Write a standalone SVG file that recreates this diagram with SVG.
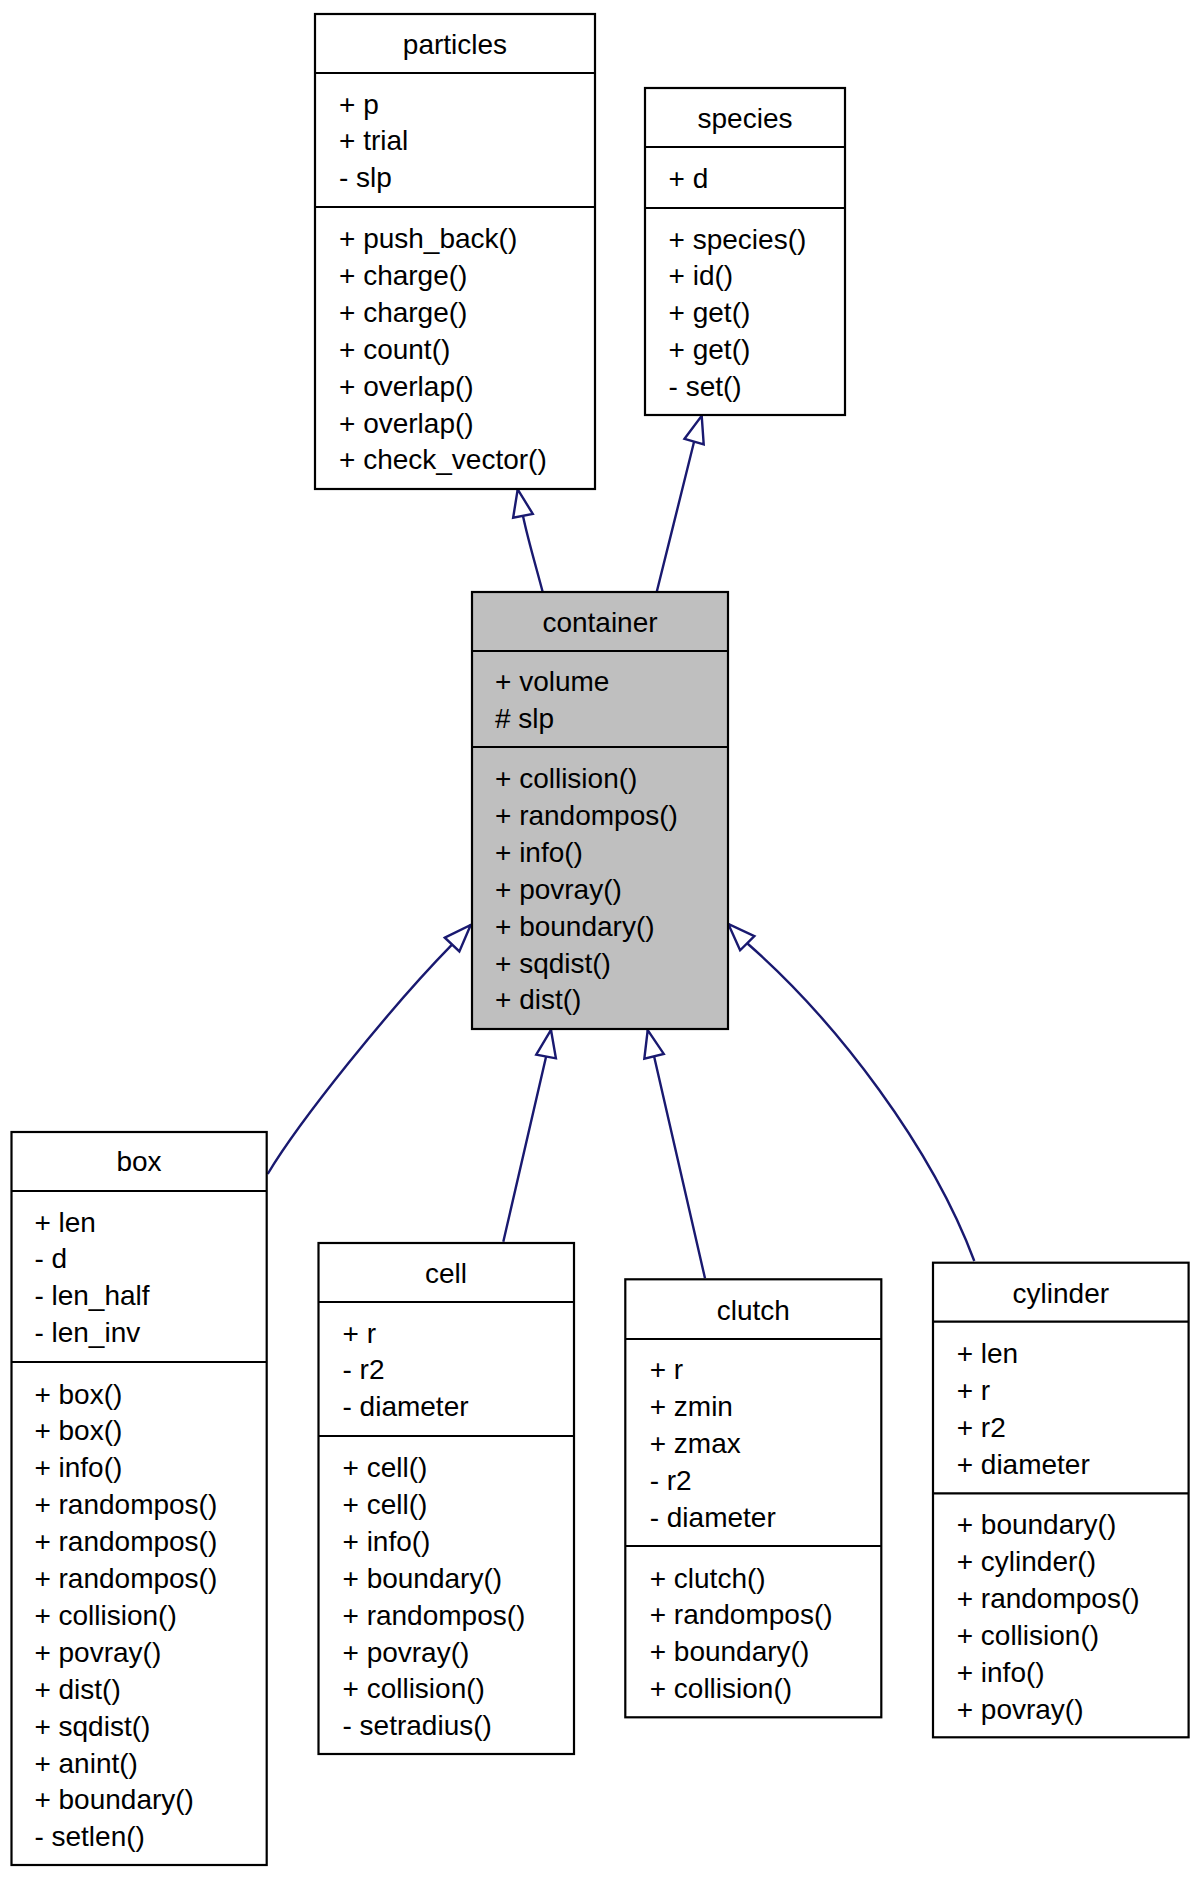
<svg xmlns="http://www.w3.org/2000/svg" width="1200" height="1877" viewBox="0 0 1200 1877">
<style>
.box{fill:#ffffff;stroke:#000000;stroke-width:2.2}
.cur{fill:#bfbfbf;stroke:#000000;stroke-width:2.2}
.div{stroke:#000000;stroke-width:2.2}
text{font-family:"Liberation Sans",Arial,Helvetica,sans-serif;font-size:28px;fill:#000000}
.t{text-anchor:middle}
.edge{fill:none;stroke:#191970;stroke-width:2.4}
</style>
<defs>
<marker id="inh" markerUnits="userSpaceOnUse" viewBox="-2 -12 31 24" markerWidth="31" markerHeight="24" refX="27" refY="0" orient="auto" overflow="visible">
<path d="M0,-10 L27,0 L0,10 Z" fill="#ffffff" stroke="#191970" stroke-width="2.4" stroke-linejoin="miter"/>
</marker>
</defs>
<rect width="1200" height="1877" fill="#ffffff"/>

<g id="connectors">
<path class="edge" d="M542.7,592 C537,570 528,540 523,516 L517.7,489.3" marker-end="url(#inh)"/>
<path class="edge" d="M656.7,592 C668,547 684,482 694,442 L701.7,415.7" marker-end="url(#inh)"/>
<path class="edge" d="M267.7,1174 C300,1120 390,1008 452,944.7 L470.7,925" marker-end="url(#inh)"/>
<path class="edge" d="M503.3,1241.7 L546,1057 L551,1030" marker-end="url(#inh)"/>
<path class="edge" d="M705,1278.3 L654,1056 L647.7,1030" marker-end="url(#inh)"/>
<path class="edge" d="M974.3,1261 C932,1148 838,1023 748,944 L728.3,924" marker-end="url(#inh)"/>
</g>

<g transform="translate(0,1)">
<g id="particles">
<rect class="box" x="315" y="13" width="280" height="475"/>
<line class="div" x1="315" y1="72" x2="595" y2="72"/>
<line class="div" x1="315" y1="206" x2="595" y2="206"/>
<text class="t" x="455" y="53">particles</text>
<text x="339" y="112.5">+ p</text>
<text x="339" y="149.4">+ trial</text>
<text x="339" y="186.3">- slp</text>
<text x="339" y="247">+ push_back()</text>
<text x="339" y="283.9">+ charge()</text>
<text x="339" y="320.8">+ charge()</text>
<text x="339" y="357.7">+ count()</text>
<text x="339" y="394.6">+ overlap()</text>
<text x="339" y="431.5">+ overlap()</text>
<text x="339" y="468.4">+ check_vector()</text>
</g>

<g id="species">
<rect class="box" x="645" y="87" width="200" height="327"/>
<line class="div" x1="645" y1="146" x2="845" y2="146"/>
<line class="div" x1="645" y1="207" x2="845" y2="207"/>
<text class="t" x="745" y="127">species</text>
<text x="668.6" y="187">+ d</text>
<text x="668.6" y="247.5">+ species()</text>
<text x="668.6" y="284.4">+ id()</text>
<text x="668.6" y="321.3">+ get()</text>
<text x="668.6" y="358.2">+ get()</text>
<text x="668.6" y="395.1">- set()</text>
</g>

<g id="container">
<rect class="cur" x="472" y="591" width="256" height="437"/>
<line class="div" x1="472" y1="650" x2="728" y2="650"/>
<line class="div" x1="472" y1="746" x2="728" y2="746"/>
<text class="t" x="600" y="631">container</text>
<text x="495" y="690">+ volume</text>
<text x="495" y="727"># slp</text>
<text x="495" y="787">+ collision()</text>
<text x="495" y="823.9">+ randompos()</text>
<text x="495" y="860.8">+ info()</text>
<text x="495" y="897.7">+ povray()</text>
<text x="495" y="934.6">+ boundary()</text>
<text x="495" y="971.5">+ sqdist()</text>
<text x="495" y="1008.4">+ dist()</text>
</g>

<g id="box">
<rect class="box" x="11.5" y="1131" width="255.2" height="733"/>
<line class="div" x1="11.5" y1="1190" x2="266.7" y2="1190"/>
<line class="div" x1="11.5" y1="1361" x2="266.7" y2="1361"/>
<text class="t" x="139" y="1170">box</text>
<text x="34.4" y="1230.5">+ len</text>
<text x="34.4" y="1267.4">- d</text>
<text x="34.4" y="1304.3">- len_half</text>
<text x="34.4" y="1341.2">- len_inv</text>
<text x="34.4" y="1402.5">+ box()</text>
<text x="34.4" y="1439.4">+ box()</text>
<text x="34.4" y="1476.3">+ info()</text>
<text x="34.4" y="1513.2">+ randompos()</text>
<text x="34.4" y="1550.1">+ randompos()</text>
<text x="34.4" y="1587">+ randompos()</text>
<text x="34.4" y="1623.9">+ collision()</text>
<text x="34.4" y="1660.8">+ povray()</text>
<text x="34.4" y="1697.7">+ dist()</text>
<text x="34.4" y="1734.6">+ sqdist()</text>
<text x="34.4" y="1771.5">+ anint()</text>
<text x="34.4" y="1808.4">+ boundary()</text>
<text x="34.4" y="1845.3">- setlen()</text>
</g>

<g id="cell">
<rect class="box" x="318.5" y="1242" width="255.5" height="511"/>
<line class="div" x1="318.5" y1="1301" x2="574" y2="1301"/>
<line class="div" x1="318.5" y1="1435" x2="574" y2="1435"/>
<text class="t" x="446" y="1282">cell</text>
<text x="342.5" y="1341.5">+ r</text>
<text x="342.5" y="1378.4">- r2</text>
<text x="342.5" y="1415.3">- diameter</text>
<text x="342.5" y="1476">+ cell()</text>
<text x="342.5" y="1512.9">+ cell()</text>
<text x="342.5" y="1549.8">+ info()</text>
<text x="342.5" y="1586.7">+ boundary()</text>
<text x="342.5" y="1623.6">+ randompos()</text>
<text x="342.5" y="1660.5">+ povray()</text>
<text x="342.5" y="1697.4">+ collision()</text>
<text x="342.5" y="1734.3">- setradius()</text>
</g>

<g id="clutch">
<rect class="box" x="625.3" y="1278.3" width="256" height="438"/>
<line class="div" x1="625.3" y1="1338" x2="881.3" y2="1338"/>
<line class="div" x1="625.3" y1="1545" x2="881.3" y2="1545"/>
<text class="t" x="753.3" y="1318.5">clutch</text>
<text x="649.7" y="1378">+ r</text>
<text x="649.7" y="1414.9">+ zmin</text>
<text x="649.7" y="1451.8">+ zmax</text>
<text x="649.7" y="1488.7">- r2</text>
<text x="649.7" y="1525.6">- diameter</text>
<text x="649.7" y="1586.5">+ clutch()</text>
<text x="649.7" y="1623.4">+ randompos()</text>
<text x="649.7" y="1660.3">+ boundary()</text>
<text x="649.7" y="1697.2">+ collision()</text>
</g>

<g id="cylinder">
<rect class="box" x="933" y="1261.7" width="255.6" height="474.6"/>
<line class="div" x1="933" y1="1320.7" x2="1188.6" y2="1320.7"/>
<line class="div" x1="933" y1="1492.3" x2="1188.6" y2="1492.3"/>
<text class="t" x="1060.8" y="1302">cylinder</text>
<text x="956.7" y="1362">+ len</text>
<text x="956.7" y="1398.9">+ r</text>
<text x="956.7" y="1435.8">+ r2</text>
<text x="956.7" y="1472.7">+ diameter</text>
<text x="956.7" y="1533">+ boundary()</text>
<text x="956.7" y="1569.9">+ cylinder()</text>
<text x="956.7" y="1606.8">+ randompos()</text>
<text x="956.7" y="1643.7">+ collision()</text>
<text x="956.7" y="1680.6">+ info()</text>
<text x="956.7" y="1717.5">+ povray()</text>
</g>
</g>
</svg>
